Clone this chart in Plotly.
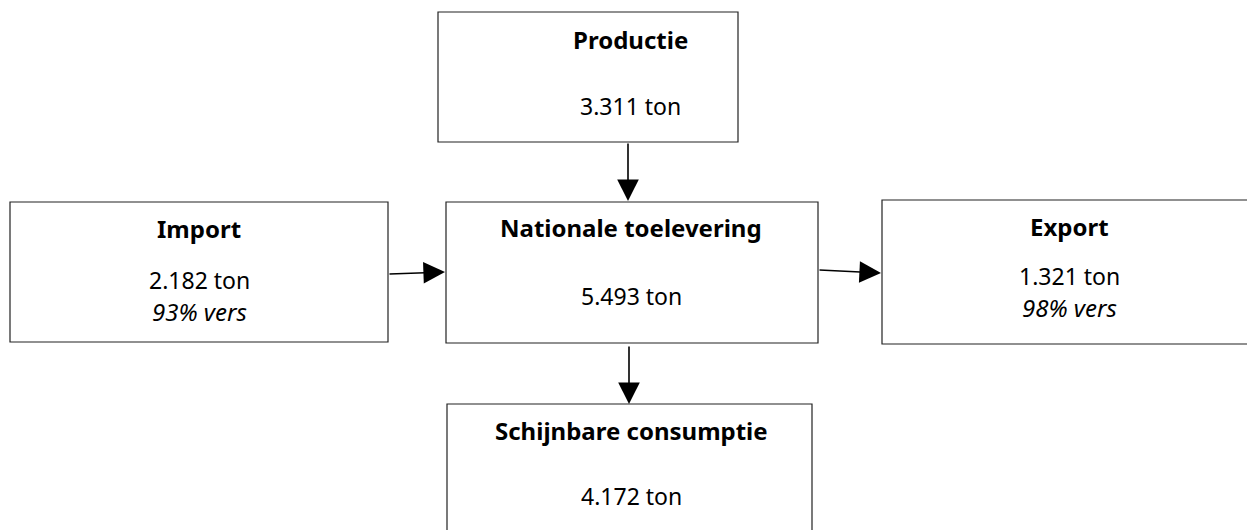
import plotly.graph_objects as go

# ---- data ----
nodes = ["Productie", "Import", "Nationale toelevering", "Export", "Schijnbare consumptie"]
tonnes = [3311, 2182, 5493, 1321, 4172]
fresh_share = [None, 93, None, 98, None]

# ---- layout (pixel coordinates of the diagram) ----
boxes = {
    "Productie": (438, 12, 738, 142),
    "Import": (10, 202, 388, 342),
    "Nationale toelevering": (446, 202, 818, 343),
    "Export": (882, 200, 1262, 344),
    "Schijnbare consumptie": (447, 404, 812, 545),
}
text_pos = {  # x, title y, value y, note y
    "Productie": (630, 39, 106, None),
    "Import": (199, 228, 280, 311),
    "Nationale toelevering": (631, 227, 296, None),
    "Export": (1069, 226, 276, 307),
    "Schijnbare consumptie": (631, 430, 496, None),
}
arrows = [  # (from x, from y, to x, to y)
    (628, 142, 628, 201),
    (388, 274, 445, 272),
    (818, 270, 881, 273),
    (629, 345, 629, 404),
]


def fmt(v):
    return f"{v:,}".replace(",", ".") + " ton"


fig = go.Figure()
FONT = "Noto Sans"
shapes = []
annotations = []
for name, t, fs in zip(nodes, tonnes, fresh_share):
    x0, y0, x1, y1 = boxes[name]
    shapes.append(dict(type="rect", xref="x", yref="y", x0=x0, y0=y0, x1=x1, y1=y1,
                       line=dict(color="#222222", width=1.2), fillcolor="white", layer="below"))
    cx, ty, vy, ny = text_pos[name]
    annotations.append(dict(x=cx, y=ty, xref="x", yref="y", text=f"<b>{name}</b>",
                            showarrow=False, font=dict(family=FONT, size=24, color="black")))
    annotations.append(dict(x=cx, y=vy, xref="x", yref="y", text=fmt(t),
                            showarrow=False, font=dict(family=FONT, size=23, color="black")))
    if fs is not None:
        annotations.append(dict(x=cx, y=ny, xref="x", yref="y", text=f"<i>{fs}% vers</i>",
                                showarrow=False, font=dict(family=FONT, size=24, color="black")))

for (ax, ay, x, y) in arrows:
    annotations.append(dict(x=x, y=y, ax=ax, ay=ay, xref="x", yref="y", axref="x", ayref="y",
                            text="", showarrow=True, arrowhead=2, arrowsize=2.7, arrowwidth=1.6,
                            arrowcolor="black", standoff=0, startstandoff=0))

fig.add_trace(go.Scatter(x=[0, 1247], y=[0, 530], mode="markers", marker=dict(opacity=0),
                         hoverinfo="skip", showlegend=False))
fig.update_layout(
    width=1247, height=530,
    margin=dict(l=0, r=0, t=0, b=0),
    paper_bgcolor="white", plot_bgcolor="white",
    xaxis=dict(range=[0, 1247], visible=False, fixedrange=True),
    yaxis=dict(range=[530, 0], visible=False, fixedrange=True),
    shapes=shapes, annotations=annotations, showlegend=False,
)
fig.write_html("out.html", config={"displayModeBar": False},
               post_script="document.body.style.margin='0';document.body.style.overflow='hidden';")
